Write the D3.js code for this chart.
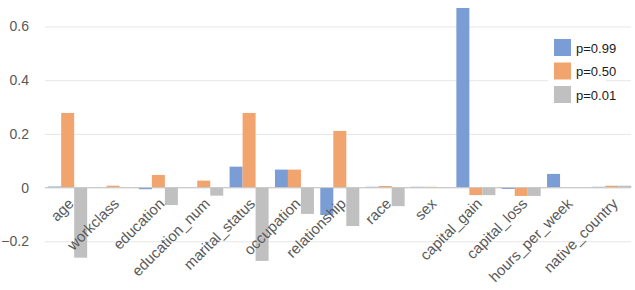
<!DOCTYPE html>
<html>
<head>
<meta charset="utf-8">
<script src="https://cdn.jsdelivr.net/npm/d3@7"></script>
<style>
  html, body { margin: 0; padding: 0; background: #fff; }
  svg { display: block; }
</style>
</head>
<body>
<svg id="chart" width="635" height="290"></svg>
<script>
const categories = ["age","workclass","education","education_num","marital_status","occupation","relationship","race","sex","capital_gain","capital_loss","hours_per_week","native_country"];
const seriesNames = ["p=0.99","p=0.50","p=0.01"];
const p99 = [0.004, 0.000, -0.006, 0.000, 0.078, 0.067, -0.102, 0.003, 0.003, 0.669, -0.005, 0.051, 0.003];
const p50 = [0.278, 0.007, 0.047, 0.026, 0.278, 0.067, 0.211, 0.006, 0.003, -0.028, -0.031, 0.000, 0.007];
const p01 = [-0.261, 0.000, -0.065, -0.030, -0.273, -0.098, -0.143, -0.069, 0.002, -0.028, -0.031, 0.000, 0.007];
const yTicks = [-0.2, 0, 0.2, 0.4, 0.6];
const colors = ["#7b9dd6", "#f2a46e", "#c0c0c0"];

const series = [p99, p50, p01];
const svg = d3.select("#chart");

const y = d3.scaleLinear().domain([-0.2, 0.6]).range([241.3, 26.5]);
const x = d3.scaleBand().domain(categories).range([45, 634.6]).paddingInner(0.14).paddingOuter(0.07);
const xs = d3.scaleBand().domain(seriesNames).range([0, x.bandwidth()]);

// gridlines
const grid = d3.axisLeft(y).tickValues(yTicks).tickSize(-(631 - 45)).tickFormat("");
svg.append("g").attr("transform", "translate(45,0)").call(grid)
  .call(g => g.select(".domain").remove())
  .call(g => g.selectAll("line").attr("stroke", "#e6e6e6").attr("stroke-width", 1));

// y labels
const yAxis = d3.axisLeft(y).tickValues(yTicks).tickSize(0).tickPadding(0).tickFormat(d => d === 0 ? "0" : d3.format(".1f")(d));
svg.append("g").attr("transform", "translate(29,0)").call(yAxis)
  .call(g => g.select(".domain").remove())
  .call(g => g.selectAll("text").attr("fill", "#595959").attr("font-family", "Liberation Sans, Arial, sans-serif").attr("font-size", 14));

// bars
series.forEach((vals, si) => {
  svg.append("g").selectAll("rect").data(vals).join("rect")
    .attr("x", (d, i) => x(categories[i]) + xs(seriesNames[si]))
    .attr("width", xs.bandwidth())
    .attr("y", d => y(Math.max(0, d)))
    .attr("height", d => Math.abs(y(d) - y(0)))
    .attr("fill", colors[si]);
});

// zero line
svg.append("line").attr("x1", 45).attr("x2", 631).attr("y1", y(0)).attr("y2", y(0))
  .attr("stroke", "#c8c8c8").attr("stroke-width", 1);

// x labels
const xAxis = d3.axisBottom(x).tickSize(0).tickPadding(0);
svg.append("g").attr("transform", `translate(0,${y(0)})`).call(xAxis)
  .call(g => g.select(".domain").remove())
  .call(g => g.selectAll("text")
    .attr("fill", "#595959")
    .attr("font-family", "Liberation Sans, Arial, sans-serif")
    .attr("font-size", 15)
    .attr("text-anchor", "end")
    .attr("dy", 0)
    .attr("y", 0)
    .attr("transform", "translate(7,17) rotate(-45)"));

// legend
const lg = svg.append("g").attr("transform", "translate(548,34)");
lg.append("rect").attr("x", 0).attr("y", 0).attr("width", 58).attr("height", 74).attr("fill", "#fff");
seriesNames.forEach((n, i) => {
  const row = lg.append("g").attr("transform", `translate(6,${5 + i * 23.5})`);
  row.append("rect").attr("width", 17).attr("height", 17).attr("fill", colors[i]);
  row.append("text").attr("x", 22).attr("y", 13.5).text(n)
    .attr("fill", "#1a1a1a").attr("font-family", "Liberation Sans, Arial, sans-serif").attr("font-size", 13);
});
</script>
</body>
</html>
